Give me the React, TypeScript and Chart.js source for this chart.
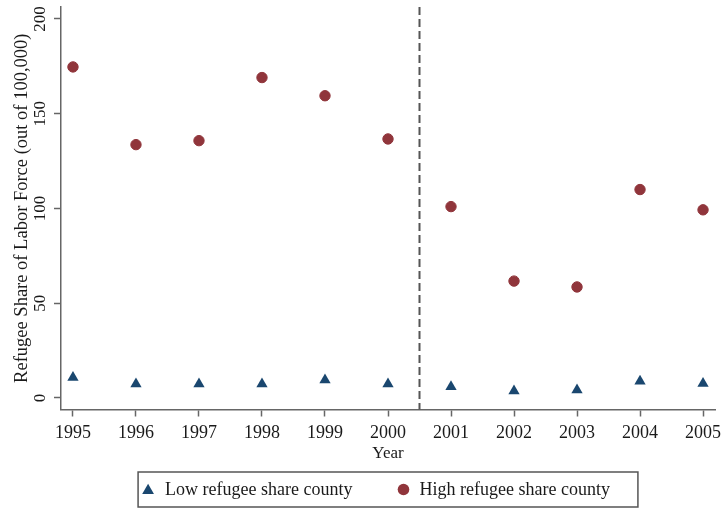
import { useEffect, useRef } from "react";
import { Chart, registerables } from "chart.js";

Chart.register(...registerables);

// Refugee share of the labor force, per 100,000 workers
const YEARS = [1995, 1996, 1997, 1998, 1999, 2000, 2001, 2002, 2003, 2004, 2005];
const LOW_SHARE = [10.8, 7.4, 7.4, 7.4, 9.5, 7.4, 5.9, 3.7, 4.2, 8.9, 7.7];
const HIGH_SHARE = [174.7, 133.7, 135.8, 169.1, 159.5, 136.7, 101, 61.7, 58.6, 110, 99.3];
const Y_TICKS = [0, 50, 100, 150, 200];
const POLICY_BREAK = 2000.5;
const SERIES_LABELS = ["Low refugee share county", "High refugee share county"];
const Y_TITLE = "Refugee Share of Labor Force (out of 100,000)";
const X_TITLE = "Year";

const NAVY = "#1a476f";
const MAROON = "#90353b";
const AXIS = "#666666";
const TEXT = "#1a1a1a";
const FONT = '"Liberation Serif", "Times New Roman", serif';

// Vertical dashed line separating the two periods
const breakLine = {
  id: "breakLine",
  beforeDatasetsDraw(chart: any) {
    const { ctx, chartArea } = chart;
    const x = chart.scales.x.getPixelForValue(POLICY_BREAK);
    ctx.save();
    ctx.strokeStyle = "#555555";
    ctx.lineWidth = 2;
    ctx.setLineDash([8, 4]);
    ctx.beginPath();
    ctx.moveTo(x, chartArea.top);
    ctx.lineTo(x, chartArea.bottom);
    ctx.stroke();
    ctx.restore();
  },
};

// Y tick labels written vertically, reading upward
const verticalYTicks = {
  id: "verticalYTicks",
  afterDraw(chart: any) {
    const { ctx } = chart;
    const s = chart.scales.y;
    ctx.save();
    ctx.font = `17px ${FONT}`;
    ctx.fillStyle = TEXT;
    ctx.textAlign = "center";
    ctx.textBaseline = "middle";
    s.ticks.forEach((t: any) => {
      const y = s.getPixelForValue(t.value);
      ctx.save();
      ctx.translate(s.right - 20, y);
      ctx.rotate(-Math.PI / 2);
      ctx.fillText(String(t.value), 0, 0);
      ctx.restore();
    });
    ctx.restore();
  },
};

function drawMarker(ctx: CanvasRenderingContext2D, style: string, x: number, y: number, r: number, color: string) {
  ctx.fillStyle = color;
  ctx.beginPath();
  if (style === "triangle") {
    ctx.moveTo(x, y - r);
    ctx.lineTo(x + (r * Math.sqrt(3)) / 2, y + r / 2);
    ctx.lineTo(x - (r * Math.sqrt(3)) / 2, y + r / 2);
    ctx.closePath();
  } else {
    ctx.arc(x, y, r, 0, Math.PI * 2);
  }
  ctx.fill();
}

// Boxed legend in a single row below the axis title
const boxedLegend = {
  id: "boxedLegend",
  afterDraw(chart: any) {
    const { ctx, chartArea } = chart;
    const ds = chart.data.datasets;
    ctx.save();
    ctx.font = `18px ${FONT}`;
    const w = ds.map((d: any) => ctx.measureText(d.label).width);
    const total = 27 + w[0] + 51 + 16 + w[1] + 28;
    const left = (chartArea.left + chartArea.right) / 2 - total / 2;
    const top = chart.height - 36;
    const h = 35;
    const cy = top + h / 2;
    ctx.strokeStyle = "#555555";
    ctx.lineWidth = 1.5;
    ctx.strokeRect(left, top, total, h);

    const m1 = left + 10;
    const t1 = left + 27;
    const m2 = t1 + w[0] + 51;
    const t2 = m2 + 16;
    drawMarker(ctx, "triangle", m1, cy + 1, 6.8, NAVY);
    drawMarker(ctx, "circle", m2, cy, 5.8, MAROON);
    ctx.fillStyle = TEXT;
    ctx.textAlign = "left";
    ctx.textBaseline = "middle";
    ctx.fillText(ds[0].label, t1, cy + 1);
    ctx.fillText(ds[1].label, t2, cy + 1);
    ctx.restore();
  },
};

export default function App() {
  const canvasRef = useRef<HTMLCanvasElement | null>(null);

  useEffect(() => {
    document.body.style.margin = "0";
    const canvas = canvasRef.current;
    if (!canvas) return;

    const chart = new Chart(canvas, {
      type: "scatter",
      data: {
        datasets: [
          {
            label: SERIES_LABELS[0],
            data: YEARS.map((x, i) => ({ x, y: LOW_SHARE[i] })),
            pointStyle: "triangle",
            pointRadius: 6.5,
            pointBackgroundColor: NAVY,
            pointBorderColor: NAVY,
            pointBorderWidth: 0,
          },
          {
            label: SERIES_LABELS[1],
            data: YEARS.map((x, i) => ({ x, y: HIGH_SHARE[i] })),
            pointStyle: "circle",
            pointRadius: 5.2,
            pointBackgroundColor: MAROON,
            pointBorderColor: MAROON,
            pointBorderWidth: 1,
          },
        ],
      },
      options: {
        responsive: false,
        animation: false,
        events: [],
        layout: { padding: { top: 7, right: 8, bottom: 38, left: 0 } },
        plugins: {
          legend: { display: false },
          tooltip: { enabled: false },
        },
        scales: {
          x: {
            type: "linear",
            min: 1994.81,
            max: 2005.19,
            afterBuildTicks: (s: any) => {
              s.ticks = YEARS.map((v) => ({ value: v }));
            },
            afterFit: (s: any) => {
              s.height = 60.5;
              s.paddingLeft = 0;
              s.paddingRight = 0;
            },
            grid: {
              display: true,
              drawOnChartArea: false,
              drawTicks: true,
              tickLength: 7,
              tickWidth: 1.5,
              tickColor: AXIS,
            },
            border: { display: true, color: AXIS, width: 1.5 },
            ticks: {
              color: TEXT,
              font: { family: FONT, size: 18 },
              padding: 6,
              maxRotation: 0,
              autoSkip: false,
              callback: (v: any) => String(v),
            },
            title: {
              display: true,
              text: X_TITLE,
              color: TEXT,
              font: { family: FONT, size: 17 },
              padding: { top: 0, bottom: 6 },
            },
          },
          y: {
            type: "linear",
            min: -6.07,
            max: 206.33,
            afterBuildTicks: (s: any) => {
              s.ticks = Y_TICKS.map((v) => ({ value: v }));
            },
            afterFit: (s: any) => {
              s.width = 61;
              s.paddingTop = 0;
              s.paddingBottom = 0;
            },
            grid: {
              display: true,
              drawOnChartArea: false,
              drawTicks: true,
              tickLength: 7,
              tickWidth: 1.5,
              tickColor: AXIS,
            },
            border: { display: true, color: AXIS, width: 1.5 },
            ticks: { display: false },
            title: {
              display: true,
              text: Y_TITLE,
              color: TEXT,
              font: { family: FONT, size: 18.5 },
              padding: { top: 10.9, bottom: 0 },
            },
          },
        },
      },
      plugins: [breakLine, verticalYTicks, boxedLegend],
    });

    return () => chart.destroy();
  }, []);

  return <canvas ref={canvasRef} width={723} height={508} style={{ display: "block" }} />;
}
